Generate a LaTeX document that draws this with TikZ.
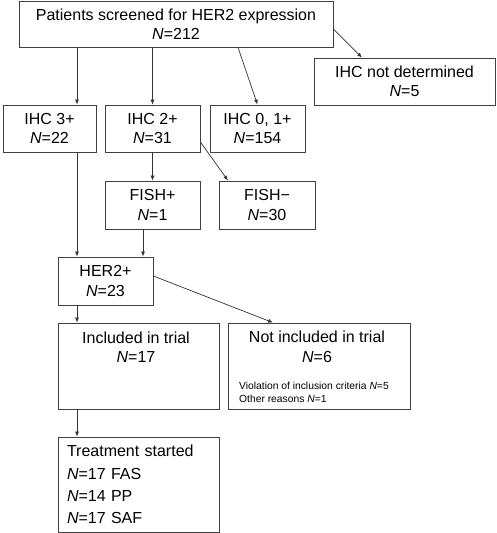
\documentclass[tikz,border=0pt]{standalone}
\usepackage{fontspec}
\setmainfont{Liberation Sans}
\usetikzlibrary{arrows.meta}

\tikzset{
  box/.style={draw=black!75, line width=0.8pt, align=center, inner sep=0pt,
    font=\fontsize{16}{19.5}\selectfont},
  arr/.style={-{Latex[length=5pt,width=4pt]}, black!80, line width=0.7pt},
}

\begin{document}
\begin{tikzpicture}[x=1pt,y=-1pt]
    \useasboundingbox (0,0) rectangle (496,533);
    % screening
    \node[box, minimum width=314pt, minimum height=46pt] (screen) at (176,24) {Patients screened for HER2 expression\\\textit{N}=212};
    \node[box, minimum width=181pt, minimum height=47pt] (notdet) at (404.5,81.5) {IHC not determined\\\textit{N}=5};

    % IHC results
    \node[box, minimum width=93pt, minimum height=47pt] (ihcthree) at (49.5,128.5) {IHC 3+\\\textit{N}=22};
    \node[box, minimum width=95pt, minimum height=47pt] (ihctwo) at (152.5,128.5) {IHC 2+\\\textit{N}=31};
    \node[box, minimum width=95pt, minimum height=47pt] (ihcone) at (257.5,128.5) {IHC 0, 1+\\\textit{N}=154};

    % FISH
    \node[box, minimum width=95pt, minimum height=48pt] (fishpos) at (152.5,205) {FISH+\\\textit{N}=1};
    \node[box, minimum width=96pt, minimum height=48pt] (fishneg) at (267,205) {FISH\textminus\\\textit{N}=30};

    % HER2+
    \node[box, minimum width=95pt, minimum height=48pt] (hertwo) at (105.5,281) {HER2+\\\textit{N}=23};

    % trial
    \node[box, minimum width=161pt, minimum height=86pt] (incl) at (138.5,366) {};
    \node[box, minimum width=182pt, minimum height=86pt] (notincl) at (319,366) {};
    \node[box, draw=none] (incltxt) at (136,347) {Included in trial\\\textit{N}=17};
    \node[box, draw=none] (notincltxt) at (317,347) {Not included in trial\\\textit{N}=6};
    \node[anchor=west, align=left, inner sep=3pt, font=\fontsize{10.3}{13}\selectfont] (reasons) at (236,392.5)
        {Violation of inclusion criteria \textit{N}=5\\Other reasons \textit{N}=1};

    % treatment
    \node[box, minimum width=161pt, minimum height=95pt, align=left, text width=143pt,
        font=\fontsize{16}{22.3}\selectfont] (treat) at (138.5,484.5)
        {Treatment started\\\textit{N}=17 FAS\\\textit{N}=14 PP\\\textit{N}=17 SAF};

    % columns for the arrows
    \coordinate (colA) at (77,0);
    \coordinate (colC) at (143,0);

    \draw[arr] (screen.south -| colA) -- (ihcthree.north -| colA);
    \draw[arr] (screen.south -| ihctwo.north) -- (ihctwo.north);
    \draw[arr] ([xshift=62pt]screen.south) -- (ihcone.north);
    \draw[arr] ([yshift=-5pt]screen.east) -- ([xshift=-42.5pt]notdet.north);
    \draw[arr] (ihctwo.south) -- (fishpos.north);
    \draw[arr] ([yshift=-13.5pt]ihctwo.east) -- ([xshift=-39pt]fishneg.north);
    \draw[arr] (ihcthree.south -| colA) -- (hertwo.north -| colA);
    \draw[arr] (fishpos.south -| colC) -- (hertwo.north -| colC);
    \draw[arr] (hertwo.south -| colA) -- (incl.north -| colA);
    \draw[arr] ([yshift=5pt]hertwo.east) -- ([xshift=-46pt]notincl.north);
    \draw[arr] (incl.south -| colA) -- (treat.north -| colA);
\end{tikzpicture}
\end{document}
